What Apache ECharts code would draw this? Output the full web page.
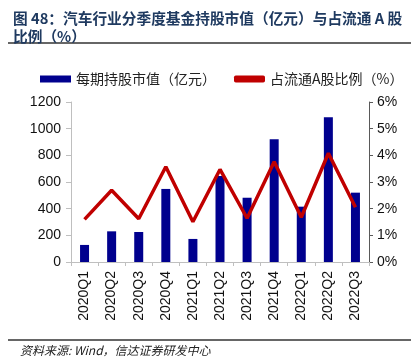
<!DOCTYPE html>
<html><head><meta charset="utf-8">
<script src="https://cdn.jsdelivr.net/npm/echarts@6/dist/echarts.min.js"></script>
<style>html,body{margin:0;padding:0;background:#fff}#c{width:420px;height:360px}</style>
</head><body><div id="c"></div>
<script>
var categories = ['2020Q1','2020Q2','2020Q3','2020Q4','2021Q1','2021Q2','2021Q3','2021Q4','2022Q1','2022Q2','2022Q3'];
var marketValue = [128, 230, 225, 548, 173, 645, 482, 920, 415, 1085, 520];
var ratio = [1.60, 2.69, 1.62, 3.57, 1.51, 3.47, 1.64, 3.76, 1.68, 4.08, 2.05];
var leftTicks = [0, 1200, 200];
var rightTicks = [0, 6, 1];

var chart = echarts.init(document.getElementById('c'), null, {renderer: 'canvas'});
var numFont = '"Liberation Sans", Arial, sans-serif';
var cjkFont = '"Noto Sans CJK SC", sans-serif';
chart.setOption({
  animation: false,
  title: {
    text: '图 48：汽车行业分季度基金持股市值（亿元）与占流通 A 股\n比例（%）',
    left: 8, top: 4,
    textStyle: {fontFamily: cjkFont, fontSize: 14.7, fontWeight: 'bold', color: '#1F3A60', lineHeight: 18}
  },
  graphic: [
    {type: 'line', shape: {x1: 8, y1: 43, x2: 411, y2: 43}, style: {stroke: '#333', lineWidth: 1.5}},
    {type: 'line', shape: {x1: 8, y1: 340, x2: 411, y2: 340}, style: {stroke: '#333', lineWidth: 1.5}},
    {type: 'text', left: 20, top: 344, style: {text: '资料来源: Wind，信达证券研发中心', font: 'italic 12px "Noto Sans CJK SC", sans-serif', fill: '#222'}}
  ],
  legend: {
    left: 35, top: 67, itemGap: 18, itemWidth: 31, itemHeight: 7,
    textStyle: {fontFamily: cjkFont, fontSize: 14, color: '#222'},
    data: [{name: '每期持股市值（亿元）', icon: 'rect'}, {name: '占流通A股比例（%）', icon: 'roundRect'}]
  },
  grid: {left: 71, right: 51, top: 102, bottom: 98},
  xAxis: {
    type: 'category', data: categories,
    axisLine: {lineStyle: {color: '#BFBFBF'}},
    axisTick: {show: true, length: 4, lineStyle: {color: '#BFBFBF'}},
    axisLabel: {rotate: 90, fontFamily: numFont, fontSize: 14, color: '#111', margin: 9}
  },
  yAxis: [
    {type: 'value', min: leftTicks[0], max: leftTicks[1], interval: leftTicks[2],
     splitLine: {show: false},
     axisLine: {show: true, lineStyle: {color: '#BFBFBF'}},
     axisTick: {show: true, length: 5, lineStyle: {color: '#BFBFBF'}},
     axisLabel: {formatter: function (v) { return String(v); }, fontFamily: numFont, fontSize: 14, color: '#111', margin: 10}},
    {type: 'value', min: rightTicks[0], max: rightTicks[1], interval: rightTicks[2],
     splitLine: {show: false},
     axisLine: {show: true, lineStyle: {color: '#595959'}},
     axisTick: {show: true, length: 4, lineStyle: {color: '#595959'}},
     axisLabel: {formatter: '{value}%', fontFamily: numFont, fontSize: 14, color: '#111', margin: 8}}
  ],
  series: [
    {name: '每期持股市值（亿元）', type: 'bar', data: marketValue, barWidth: 9,
     itemStyle: {color: '#00008E'}},
    {name: '占流通A股比例（%）', type: 'line', yAxisIndex: 1, data: ratio,
     symbol: 'none', lineStyle: {color: '#C00000', width: 3.5}, itemStyle: {color: '#C00000'}}
  ]
});
</script></body></html>
